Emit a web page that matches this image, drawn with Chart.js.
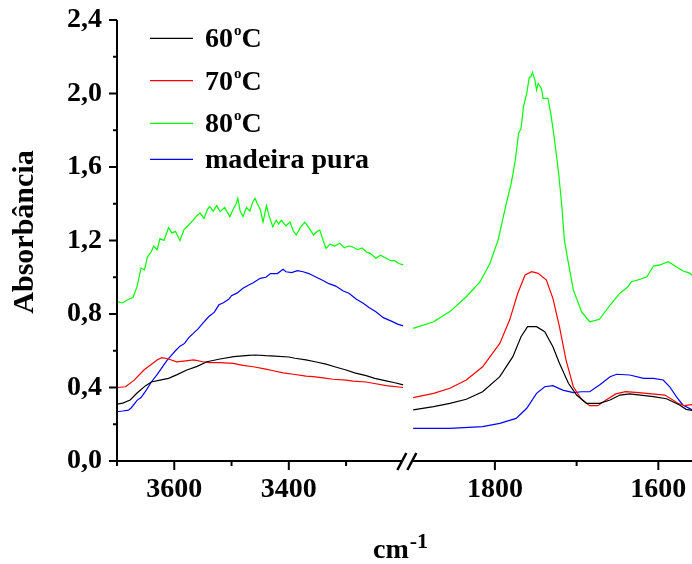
<!DOCTYPE html>
<html>
<head>
<meta charset="utf-8">
<script src="https://cdn.jsdelivr.net/npm/chart.js@4.4.1/dist/chart.umd.min.js"></script>
<style>
  html, body { margin: 0; padding: 0; background: #fff; }
</style>
</head>
<body>
<canvas id="ftir" width="692" height="564"></canvas>
<script>
const FONT = "'Liberation Serif', 'Times New Roman', serif";

// legenda
const legendLabels = ["60°C", "70°C", "80°C", "madeira pura"];
const seriesColors = ["#000000", "#ff0000", "#00ff00", "#0000ff"];

// eixos
const yTicks = [0, 0.4, 0.8, 1.2, 1.6, 2.0, 2.4];
const yMinorTicks = [0.2, 0.6, 1.0, 1.4, 1.8, 2.2];
const xTicksHigh = [3600, 3400];
const xMinorHigh = [3700, 3500, 3300];
const xTicksLow = [1800, 1600];
const xMinorLow = [1700];

// [número de onda, absorbância] - região 3700-3200
const a60High = [[3700,0.310],[3690,0.315],[3677,0.332],[3665,0.37],[3650,0.41],[3640,0.43],[3625,0.44],[3610,0.45],[3595,0.47],[3578,0.495],[3560,0.515],[3543,0.54],[3520,0.555],[3496,0.568],[3470,0.575],[3459,0.577],[3440,0.573],[3424,0.571],[3400,0.566],[3389,0.559],[3370,0.55],[3354,0.54],[3335,0.527],[3320,0.513],[3300,0.495],[3285,0.48],[3265,0.465],[3250,0.45],[3230,0.436],[3215,0.426],[3200,0.414]];
const a70High = [[3700,0.40],[3685,0.404],[3670,0.44],[3653,0.495],[3630,0.55],[3622,0.562],[3610,0.555],[3596,0.54],[3580,0.545],[3566,0.55],[3550,0.54],[3538,0.535],[3520,0.535],[3497,0.531],[3480,0.52],[3462,0.513],[3440,0.50],[3427,0.491],[3410,0.48],[3392,0.472],[3370,0.462],[3357,0.459],[3340,0.452],[3323,0.445],[3300,0.44],[3288,0.435],[3265,0.43],[3253,0.423],[3230,0.41],[3200,0.40]];
const a80High = [[3700,0.867],[3690,0.860],[3680,0.880],[3672,0.890],[3665,0.95],[3658,1.05],[3652,1.04],[3647,1.11],[3640,1.14],[3636,1.17],[3630,1.15],[3625,1.21],[3618,1.20],[3610,1.27],[3604,1.24],[3598,1.25],[3590,1.20],[3583,1.26],[3578,1.275],[3570,1.30],[3562,1.33],[3555,1.35],[3548,1.32],[3542,1.37],[3538,1.385],[3532,1.36],[3526,1.39],[3520,1.357],[3512,1.38],[3503,1.33],[3497,1.37],[3492,1.40],[3489,1.43],[3485,1.36],[3480,1.33],[3474,1.38],[3468,1.36],[3463,1.41],[3459,1.43],[3455,1.40],[3450,1.37],[3445,1.30],[3439,1.39],[3434,1.33],[3428,1.275],[3422,1.31],[3418,1.29],[3413,1.31],[3405,1.28],[3398,1.30],[3392,1.25],[3387,1.23],[3380,1.27],[3372,1.30],[3365,1.27],[3357,1.23],[3350,1.25],[3346,1.257],[3340,1.20],[3335,1.157],[3328,1.18],[3320,1.17],[3311,1.185],[3303,1.16],[3296,1.17],[3289,1.166],[3280,1.15],[3272,1.16],[3265,1.139],[3258,1.13],[3248,1.103],[3240,1.12],[3230,1.103],[3222,1.09],[3215,1.09],[3208,1.075],[3200,1.067]];
const pureHigh = [[3700,0.268],[3690,0.272],[3680,0.277],[3675,0.290],[3665,0.330],[3658,0.345],[3650,0.38],[3640,0.43],[3630,0.47],[3620,0.515],[3612,0.55],[3605,0.575],[3598,0.60],[3590,0.625],[3582,0.64],[3575,0.67],[3565,0.70],[3558,0.72],[3550,0.75],[3540,0.785],[3530,0.81],[3522,0.85],[3515,0.86],[3505,0.88],[3500,0.90],[3490,0.915],[3480,0.94],[3470,0.958],[3462,0.97],[3450,0.994],[3440,1.00],[3432,1.02],[3420,1.02],[3410,1.043],[3405,1.03],[3395,1.025],[3385,1.036],[3375,1.03],[3365,1.02],[3352,1.00],[3342,0.985],[3330,0.965],[3318,0.952],[3305,0.925],[3295,0.913],[3282,0.88],[3270,0.858],[3260,0.835],[3248,0.812],[3235,0.78],[3220,0.76],[3210,0.745],[3200,0.735]];

// região 1900-1560
const a60Low = [[1900,0.278],[1875,0.296],[1855,0.314],[1835,0.336],[1815,0.377],[1794,0.459],[1778,0.568],[1768,0.676],[1760,0.731],[1749,0.731],[1739,0.704],[1729,0.622],[1721,0.532],[1710,0.423],[1700,0.359],[1688,0.314],[1672,0.314],[1659,0.332],[1647,0.359],[1635,0.365],[1622,0.359],[1606,0.35],[1590,0.339],[1574,0.305],[1566,0.281],[1555,0.272]];
const a70Low = [[1900,0.345],[1875,0.368],[1855,0.396],[1835,0.441],[1815,0.513],[1794,0.64],[1782,0.767],[1772,0.913],[1763,1.012],[1755,1.03],[1747,1.021],[1737,0.985],[1729,0.885],[1721,0.731],[1713,0.55],[1704,0.404],[1694,0.336],[1684,0.301],[1674,0.301],[1664,0.332],[1652,0.365],[1640,0.377],[1624,0.372],[1608,0.365],[1592,0.359],[1576,0.314],[1568,0.301],[1555,0.31]];
const a80Low = [[1900,0.722],[1875,0.758],[1855,0.813],[1835,0.894],[1818,0.976],[1806,1.076],[1796,1.203],[1786,1.402],[1780,1.511],[1775,1.638],[1771,1.783],[1768,1.81],[1765,1.928],[1761,2.00],[1758,2.088],[1756,2.091],[1754,2.115],[1751,2.073],[1749,2.019],[1747,2.055],[1743,2.028],[1741,1.974],[1735,1.974],[1731,1.874],[1727,1.747],[1722,1.566],[1718,1.384],[1715,1.203],[1710,1.076],[1704,0.931],[1694,0.813],[1684,0.758],[1672,0.771],[1659,0.849],[1647,0.913],[1637,0.949],[1633,0.976],[1622,0.989],[1614,1.003],[1606,1.061],[1598,1.067],[1588,1.085],[1578,1.057],[1570,1.034],[1563,1.025],[1555,1.0]];
const pureLow = [[1900,0.178],[1855,0.178],[1815,0.187],[1794,0.205],[1774,0.232],[1761,0.287],[1749,0.368],[1739,0.404],[1729,0.41],[1717,0.386],[1704,0.372],[1694,0.377],[1684,0.377],[1672,0.414],[1659,0.459],[1651,0.472],[1635,0.468],[1618,0.45],[1606,0.45],[1594,0.441],[1586,0.404],[1578,0.35],[1570,0.305],[1555,0.27]];

const seriesParts = [[a60High, a60Low], [a70High, a70Low], [a80High, a80Low], [pureHigh, pureLow]];

function toPts(arr) {
  return arr.map(p => ({ x: p[0], y: p[1] }));
}

const datasets = [];
seriesParts.forEach((parts, i) => {
  ["xHigh", "xLow"].forEach((axis, k) => {
    datasets.push({
      label: legendLabels[i],
      data: toPts(parts[k]),
      xAxisID: axis,
      borderColor: seriesColors[i],
      borderWidth: 1.2,
      pointRadius: 0,
      fill: false,
      tension: 0
    });
  });
});

const tickFont = { family: FONT, size: 28, weight: "bold" };

// sem folga extra dos rótulos: a área do gráfico fica fixa
function noPad(s) {
  s.paddingTop = 0; s.paddingBottom = 0; s.paddingLeft = 0; s.paddingRight = 0;
}

// eixo quebrado, marcas, legenda e títulos
const brokenAxes = {
  id: "brokenAxes",
  afterDraw(chart) {
    const { ctx, chartArea: ca, scales } = chart;
    const y = scales.y, xh = scales.xHigh, xl = scales.xLow;
    const line = (x1, y1, x2, y2) => {
      ctx.beginPath(); ctx.moveTo(x1, y1); ctx.lineTo(x2, y2); ctx.stroke();
    };
    ctx.save();
    ctx.strokeStyle = "#000";
    ctx.lineWidth = 2;

    line(ca.left, ca.top, ca.left, ca.bottom + 4);
    yTicks.forEach(v => { const p = y.getPixelForValue(v); line(ca.left - 8, p, ca.left, p); });
    yMinorTicks.forEach(v => { const p = y.getPixelForValue(v); line(ca.left - 4, p, ca.left, p); });

    const bx = xh.right;
    line(ca.left, ca.bottom, bx - 1, ca.bottom);
    line(bx + 9, ca.bottom, ca.right, ca.bottom);
    ctx.lineWidth = 2.5;
    line(bx - 6, ca.bottom + 9, bx + 3, ca.bottom - 8);
    line(bx + 4, ca.bottom + 9, bx + 13, ca.bottom - 8);
    ctx.lineWidth = 2;

    xTicksHigh.forEach(v => { const p = xh.getPixelForValue(v); line(p, ca.bottom, p, ca.bottom + 9); });
    xMinorHigh.forEach(v => { const p = xh.getPixelForValue(v); line(p, ca.bottom, p, ca.bottom + 5); });
    xTicksLow.forEach(v => { const p = xl.getPixelForValue(v); line(p, ca.bottom, p, ca.bottom + 9); });
    xMinorLow.forEach(v => { const p = xl.getPixelForValue(v); line(p, ca.bottom, p, ca.bottom + 5); });

    // legenda
    const rows = [38.3, 80.7, 123.3, 159.3];
    ctx.fillStyle = "#000";
    ctx.textBaseline = "alphabetic";
    legendLabels.forEach((lab, i) => {
      const ry = rows[i];
      ctx.strokeStyle = seriesColors[i];
      ctx.lineWidth = 1.2;
      line(150, ry, 193, ry);
      ctx.font = "bold 28px " + FONT;
      let tx = 205;
      const parts = lab.split("°");
      ctx.fillText(parts[0], tx, ry + 9);
      tx += ctx.measureText(parts[0]).width;
      if (parts.length > 1) {
        ctx.font = "bold 15px " + FONT;
        ctx.fillText("o", tx + 1, ry - 3);
        tx += ctx.measureText("o").width + 1;
        ctx.font = "bold 28px " + FONT;
        ctx.fillText("C", tx, ry + 9);
      }
    });

    // títulos
    ctx.font = "bold 28px " + FONT;
    ctx.textAlign = "left";
    ctx.fillText("cm", 373, 558);
    const cw = ctx.measureText("cm").width;
    ctx.font = "bold 22px " + FONT;
    ctx.fillText("-1", 373 + cw + 1, 548);

    ctx.translate(33, 232);
    ctx.rotate(-Math.PI / 2);
    ctx.font = "bold 30px " + FONT;
    ctx.textAlign = "center";
    ctx.fillText("Absorbância", 0, 0);
    ctx.restore();
  }
};

const ctx = document.getElementById("ftir").getContext("2d");
new Chart(ctx, {
  type: "line",
  data: { datasets: datasets },
  options: {
    responsive: false,
    animation: false,
    devicePixelRatio: 1,
    layout: { padding: { top: 20, right: 0, bottom: 0, left: 0 } },
    plugins: { legend: { display: false }, tooltip: { enabled: false } },
    scales: {
      xHigh: {
        type: "linear", position: "bottom", stack: "wn", stackWeight: 286.5,
        min: 3200, max: 3700, reverse: true,
        grid: { display: false, drawTicks: false }, border: { display: false },
        ticks: { padding: 12, color: "#000", font: tickFont, maxRotation: 0, autoSkip: false, callback: v => String(v) },
        afterBuildTicks: s => { s.ticks = xTicksHigh.map(v => ({ value: v })); },
        afterFit: s => { s.height = 103; noPad(s); }
      },
      xLow: {
        type: "linear", position: "bottom", stack: "wn", stackWeight: 288.8,
        min: 1558.8, max: 1912, reverse: true,
        grid: { display: false, drawTicks: false }, border: { display: false },
        ticks: { padding: 12, color: "#000", font: tickFont, maxRotation: 0, autoSkip: false, callback: v => String(v) },
        afterBuildTicks: s => { s.ticks = xTicksLow.map(v => ({ value: v })); },
        afterFit: s => { s.height = 103; noPad(s); }
      },
      y: {
        type: "linear", position: "left", min: 0, max: 2.4,
        grid: { display: false, drawTicks: false }, border: { display: false },
        ticks: { padding: 15, color: "#000", font: tickFont, callback: v => v.toFixed(1).replace(".", ",") },
        afterBuildTicks: s => { s.ticks = yTicks.map(v => ({ value: v })); },
        afterFit: s => { s.width = 117; noPad(s); }
      }
    }
  },
  plugins: [brokenAxes]
});
</script>
</body>
</html>
